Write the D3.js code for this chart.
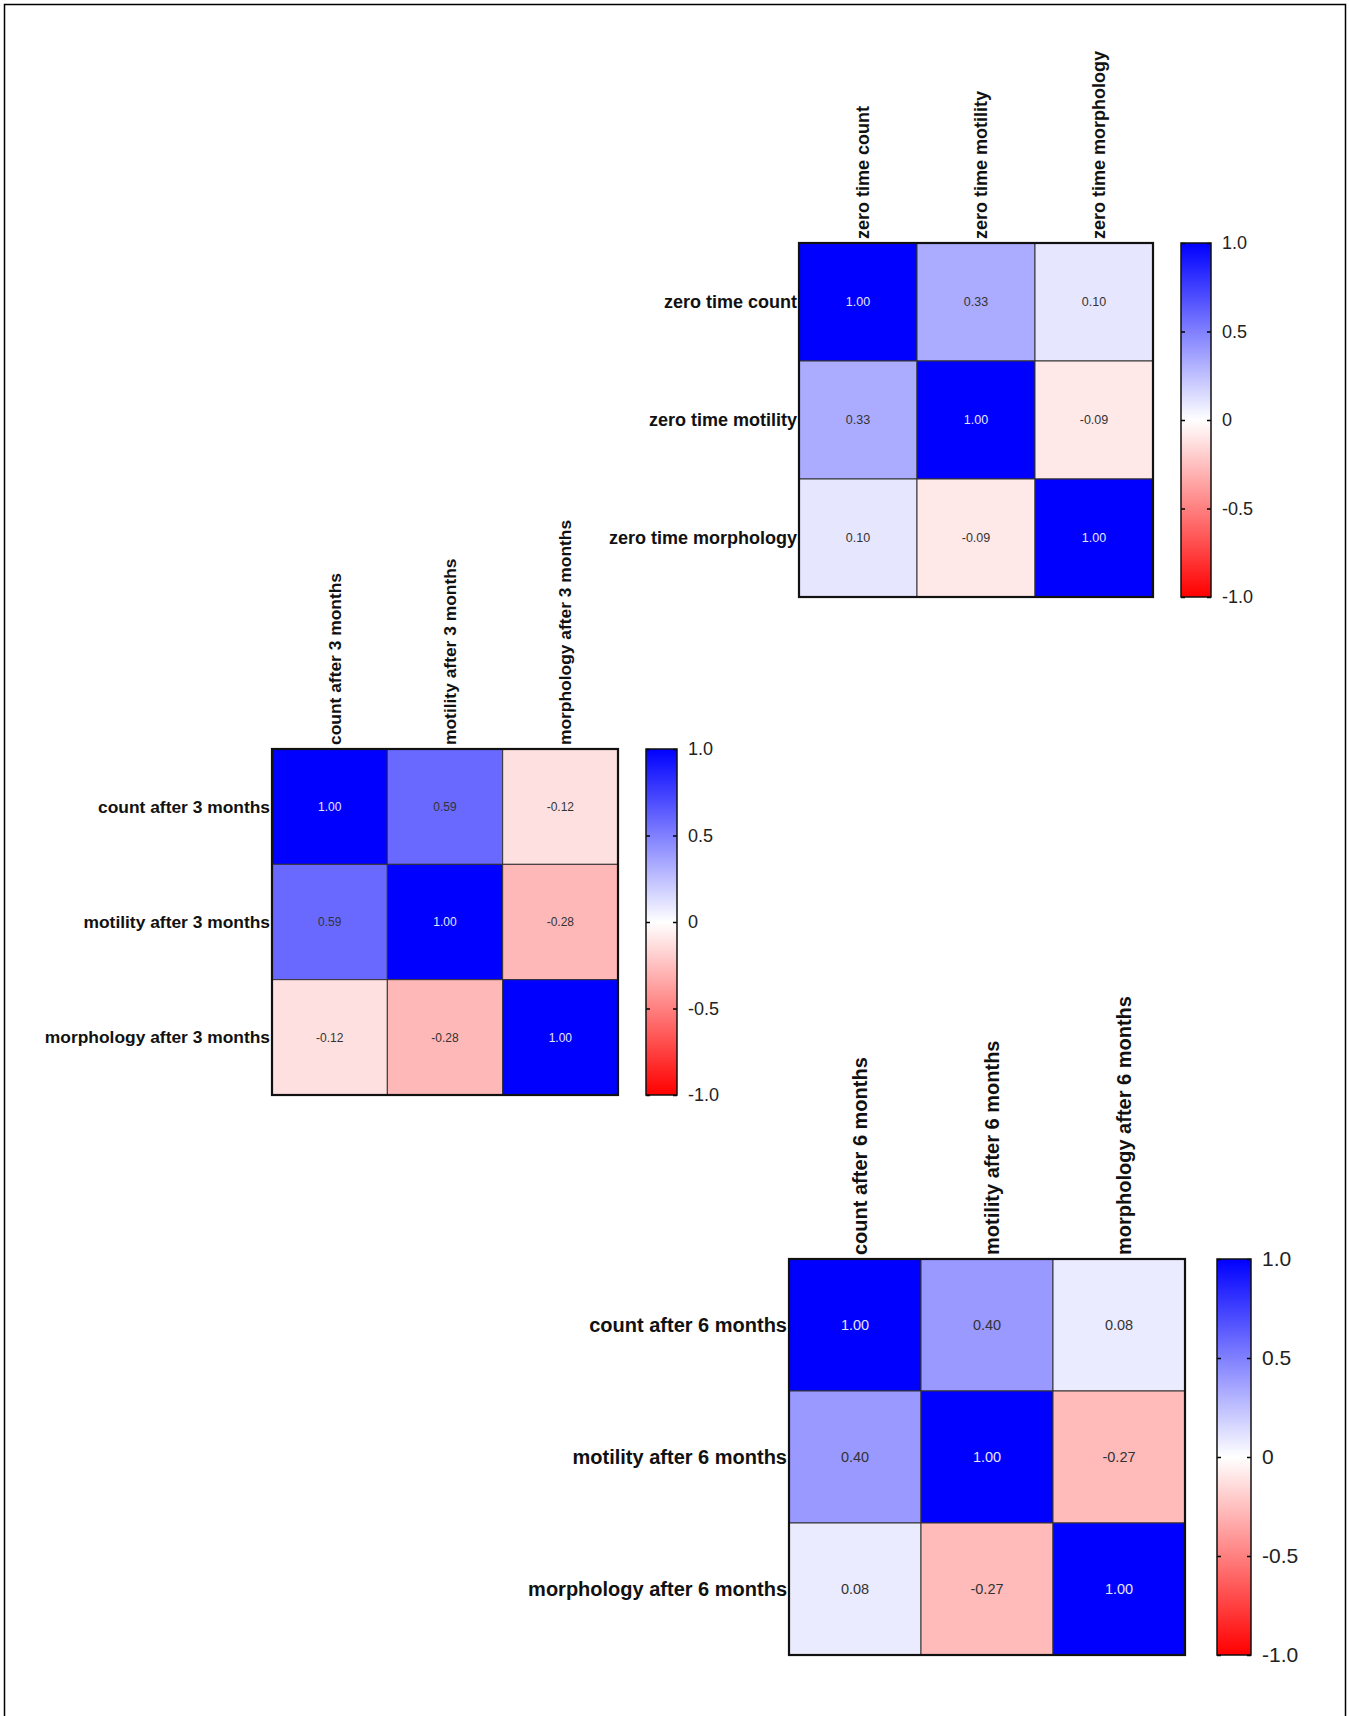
<!DOCTYPE html>
<html>
<head>
<meta charset="utf-8">
<script src="https://cdn.jsdelivr.net/npm/d3@7"></script>
<style>
  body { margin: 0; background: #fff; }
  svg { display: block; font-family: "Liberation Sans", Arial, sans-serif; }
</style>
</head>
<body>
<svg id="fig" width="1349" height="1716"></svg>
<script>
// Correlation matrices (Pearson r) for the three time points

const labelsZero = ["zero time count", "zero time motility", "zero time morphology"];
const valuesZero = [
    [1.00, 0.33, 0.10],
    [0.33, 1.00, -0.09],
    [0.10, -0.09, 1.00]
];

const labels3m = ["count after 3 months", "motility after 3 months", "morphology after 3 months"];
const values3m = [
    [1.00, 0.59, -0.12],
    [0.59, 1.00, -0.28],
    [-0.12, -0.28, 1.00]
];

const labels6m = ["count after 6 months", "motility after 6 months", "morphology after 6 months"];
const values6m = [
    [1.00, 0.40, 0.08],
    [0.40, 1.00, -0.27],
    [0.08, -0.27, 1.00]
];

const colorTicks = [-1, -0.5, 0, 0.5, 1];

// Layout of each panel on the page
const panels = [
    { labels: labelsZero, values: valuesZero, x0: 799, y0: 243, size: 354, cbX: 1181, cbW: 30, font: 18, cellFont: 12.5, tickFont: 18 },
    { labels: labels3m, values: values3m, x0: 272, y0: 749, size: 346, cbX: 646, cbW: 31, font: 17.4, cellFont: 12, tickFont: 18 },
    { labels: labels6m, values: values6m, x0: 789, y0: 1259, size: 396, cbX: 1217, cbW: 34, font: 20, cellFont: 14.5, tickFont: 21 }
];

const svg = d3.select("#fig");

svg.append("rect")
    .attr("width", 1349).attr("height", 1716)
    .attr("fill", "#fff");

// outer frame of the figure
svg.append("rect")
    .attr("x", 4.5).attr("y", 4.5)
    .attr("width", 1341).attr("height", 1730)
    .attr("fill", "none")
    .attr("stroke", "#000")
    .attr("stroke-width", 1.5);

const color = d3.scaleLinear()
    .domain([-1, 0, 1])
    .range(["#ff0000", "#ffffff", "#0000ff"]);

const defs = svg.append("defs");
const grad = defs.append("linearGradient")
    .attr("id", "cbar")
    .attr("x1", 0).attr("y1", 1).attr("x2", 0).attr("y2", 0);
grad.selectAll("stop")
    .data(d3.range(0, 1.0001, 0.05))
    .join("stop")
    .attr("offset", d => d)
    .attr("stop-color", d => color(d * 2 - 1));

function drawPanel(p) {
    const g = svg.append("g");
    const idx = d3.range(p.labels.length);

    const x = d3.scaleBand().domain(idx).range([p.x0, p.x0 + p.size]);
    const y = d3.scaleBand().domain(idx).range([p.y0, p.y0 + p.size]);

    const cells = [];
    p.values.forEach((row, i) => row.forEach((v, j) => cells.push({ i, j, v })));

    g.selectAll("rect.cell")
        .data(cells)
        .join("rect")
        .attr("class", "cell")
        .attr("x", d => x(d.j))
        .attr("y", d => y(d.i))
        .attr("width", x.bandwidth())
        .attr("height", y.bandwidth())
        .attr("fill", d => color(d.v))
        .attr("stroke", "#333")
        .attr("stroke-width", 1);

    g.selectAll("text.val")
        .data(cells)
        .join("text")
        .attr("class", "val")
        .attr("x", d => x(d.j) + x.bandwidth() / 2)
        .attr("y", d => y(d.i) + y.bandwidth() / 2)
        .attr("dy", "0.35em")
        .attr("text-anchor", "middle")
        .attr("font-size", p.cellFont)
        .attr("fill", d => d.v > 0.7 ? "#e6e6ff" : "#333")
        .text(d => d.v.toFixed(2));

    // heavy outline
    g.append("rect")
        .attr("x", p.x0).attr("y", p.y0)
        .attr("width", p.size).attr("height", p.size)
        .attr("fill", "none")
        .attr("stroke", "#111")
        .attr("stroke-width", 2.2);

    // row labels
    g.selectAll("text.row")
        .data(idx)
        .join("text")
        .attr("class", "row")
        .attr("x", p.x0 - 2)
        .attr("y", d => y(d) + y.bandwidth() / 2)
        .attr("dy", "0.35em")
        .attr("text-anchor", "end")
        .attr("font-weight", "bold")
        .attr("font-size", p.font)
        .attr("fill", "#111")
        .text(d => p.labels[d]);

    // column labels, rotated
    g.selectAll("text.col")
        .data(idx)
        .join("text")
        .attr("class", "col")
        .attr("transform", d => `translate(${x(d) + x.bandwidth() / 2 + 5},${p.y0 - 4}) rotate(-90)`)
        .attr("dy", "0.35em")
        .attr("text-anchor", "start")
        .attr("font-weight", "bold")
        .attr("font-size", p.font)
        .attr("fill", "#111")
        .text(d => p.labels[d]);

    // colour bar
    const cb = d3.scaleLinear().domain([-1, 1]).range([p.y0 + p.size, p.y0]);

    g.append("rect")
        .attr("x", p.cbX).attr("y", p.y0)
        .attr("width", p.cbW).attr("height", p.size)
        .attr("fill", "url(#cbar)");

    const fmt = d => d === 0 ? "0" : d.toFixed(1);

    const axR = g.append("g")
        .attr("transform", `translate(${p.cbX + p.cbW},0)`)
        .call(d3.axisRight(cb).tickValues(colorTicks).tickSize(-4).tickPadding(11).tickFormat(fmt));
    axR.select(".domain").remove();
    axR.selectAll("text")
        .attr("font-size", p.tickFont)
        .attr("font-family", "Liberation Sans, Arial, sans-serif")
        .attr("fill", "#222");
    axR.selectAll("line").attr("stroke-width", 1.5);

    const axL = g.append("g")
        .attr("transform", `translate(${p.cbX},0)`)
        .call(d3.axisLeft(cb).tickValues(colorTicks).tickSize(-4).tickFormat(""));
    axL.select(".domain").remove();
    axL.selectAll("line").attr("stroke-width", 1.5);

    g.append("rect")
        .attr("x", p.cbX).attr("y", p.y0)
        .attr("width", p.cbW).attr("height", p.size)
        .attr("fill", "none")
        .attr("stroke", "#111")
        .attr("stroke-width", 1.5);
}

panels.forEach(drawPanel);
</script>
</body>
</html>
